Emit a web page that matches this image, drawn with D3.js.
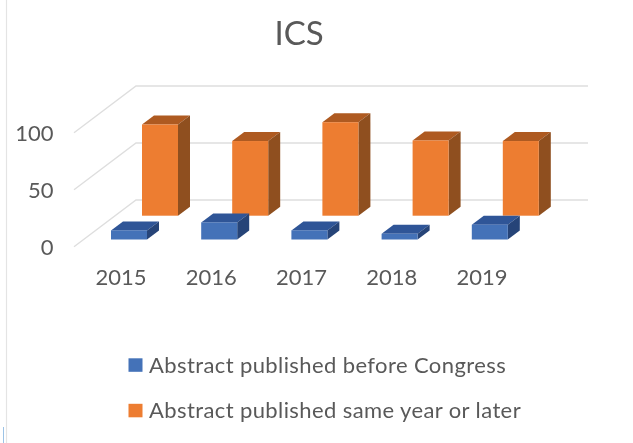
<!DOCTYPE html>
<html><head><meta charset="utf-8">
<script src="https://cdn.jsdelivr.net/npm/d3@7"></script>
<style>
html,body{margin:0;padding:0;background:#fff;overflow:hidden}
text{font-family:Lato,"Open Sans",sans-serif;fill:#595959}
</style></head>
<body><svg id="c" width="633" height="443"></svg>
<script>
const categories = ["2015","2016","2017","2018","2019"];
const seriesNames = ["Abstract published before Congress","Abstract published same year or later"];
const beforeCongress = [8, 15, 8, 5, 13];
const sameYearOrLater = [80, 65.5, 82, 66, 65.5];
const yTicks = [0, 50, 100];
const chartTitle = "ICS";

const colors = [
  {front:"#4472b8", top:"#2f5597", side:"#264478"},
  {front:"#ed7d31", top:"#ae5a21", side:"#8f4f1f"}
];
const svg = d3.select("#c");
const root = svg.append("g").style("filter","blur(0.4px)");

// frame leftovers of the screenshot
root.append("line").attr("x1",6.5).attr("x2",6.5).attr("y1",0).attr("y2",443).attr("stroke","#e4e4e4").attr("stroke-width",1.2);
root.append("line").attr("x1",3.5).attr("x2",3.5).attr("y1",427).attr("y2",443).attr("stroke","#9cc3e6").attr("stroke-width",1);

const yFront = d3.scaleLinear().domain([0,100]).range([246.7,132.7]);
const wall = {dx:62, dy:-46.7, x0:74, x1:588};
const grid = root.append("g");
yTicks.forEach(t=>{
  const y = yFront(t);
  grid.append("path")
    .attr("d",`M${wall.x0},${y}L${wall.x0+wall.dx},${y+wall.dy}L${wall.x1},${y+wall.dy}`)
    .attr("fill","none").attr("stroke","#dedede").attr("stroke-width",1.4);
});

const x = d3.scaleBand().domain(categories).range([84,84+90.2*5]).paddingInner(0).paddingOuter(0);
const barW = 36, depth = {dx:12, dy:-9};
const seriesOffset = [{dx:0, base:239.5},{dx:31, base:215.7}];
const h = d3.scaleLinear().domain([0,100]).range([0,114]);

function drawSeries(values, i){
  const c = colors[i], o = seriesOffset[i];
  const g = root.append("g").selectAll("g").data(values).join("g");
  const X = (d,k)=> x(categories[k]) + 27 + o.dx;
  g.append("path").attr("fill",c.top)
    .attr("d",(d,k)=>{const l=X(d,k),t=o.base-h(d);return `M${l},${t}L${l+depth.dx},${t+depth.dy}L${l+barW+depth.dx},${t+depth.dy}L${l+barW},${t}Z`;});
  g.append("path").attr("fill",c.side)
    .attr("d",(d,k)=>{const l=X(d,k)+barW,t=o.base-h(d);return `M${l},${t}L${l+depth.dx},${t+depth.dy}L${l+depth.dx},${o.base+depth.dy}L${l},${o.base}Z`;});
  g.append("rect").attr("fill",c.front)
    .attr("x",(d,k)=>X(d,k)).attr("y",d=>o.base-h(d)).attr("width",barW).attr("height",d=>h(d));
}
drawSeries(sameYearOrLater,1);
drawSeries(beforeCongress,0);

const yAxis = root.append("g").attr("transform","translate(53.5,0)")
  .call(d3.axisLeft(yFront).tickValues(yTicks).tickSize(0).tickPadding(0));
yAxis.select(".domain").remove();
yAxis.selectAll("text").attr("font-size",22).style("font-family","Lato,sans-serif").attr("dy","0.34em");

const xAxis = root.append("g").attr("transform","translate(-8,277)")
  .call(d3.axisBottom(x).tickSize(0).tickPadding(0));
xAxis.select(".domain").remove();
xAxis.selectAll("text").attr("font-size",22).style("font-family","Lato,sans-serif").attr("y",0).attr("dy","0.35em");

root.append("text").attr("x",299).attr("y",45).attr("text-anchor","middle")
  .attr("font-size",33).text(chartTitle);

const legendY = d3.scalePoint().domain(seriesNames).range([365,410.5]);
const lg = root.append("g").selectAll("g").data(seriesNames).join("g");
lg.append("rect").attr("x",128.5).attr("width",14).attr("height",13.5)
  .attr("y",d=>legendY(d)-6.7).attr("fill",(d,i)=>colors[i].front);
lg.append("text").attr("x",149).attr("y",d=>legendY(d)).attr("dy","0.35em")
  .attr("font-size",22).style("letter-spacing","0.4px").text(d=>d);
</script></body></html>
